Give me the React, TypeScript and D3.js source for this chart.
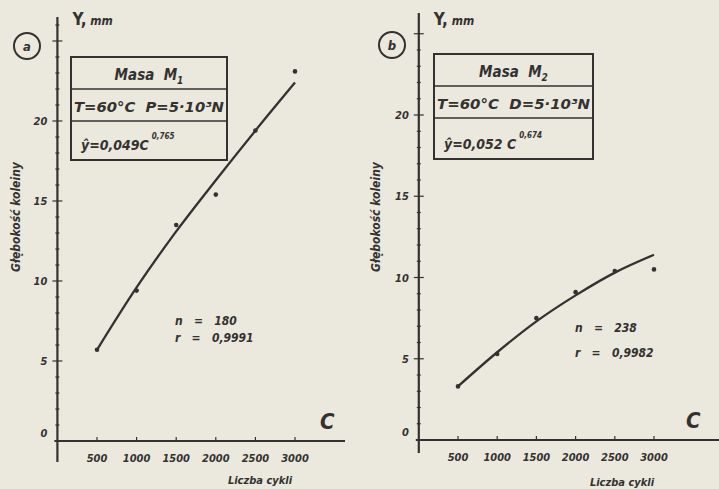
import { useEffect, useRef } from 'react'
import * as d3 from 'd3'

// number of cycles (C)
const cycles = [500, 1000, 1500, 2000, 2500, 3000]
const xTickValues = [500, 1000, 1500, 2000, 2500, 3000]
const yTickValues = [0, 5, 10, 15, 20]

// panel a: mass M1 - measured rut depth and fitted curve (mm)
const measuredA = [5.7, 9.4, 13.5, 15.4, 19.4, 23.1]
const fittedA = [5.7, 9.6, 13.1, 16.3, 19.4, 22.4]

// panel b: mass M2
const measuredB = [3.3, 5.3, 7.5, 9.1, 10.4, 10.5]
const fittedB = [3.3, 5.4, 7.3, 8.9, 10.3, 11.4]

const INK = '#333230'
const FONT = '"DejaVu Sans Condensed", "DejaVu Sans", sans-serif'

interface Panel {
  letter: string
  measured: number[]
  fitted: number[]
  x0: number
  x3000: number
  y0: number
  y20: number
  axisTop: number
  axisBottom: number
  axisRight: number
  box: { x: number; y: number; w: number; h: number; d1: number; d2: number }
  mass: string
  massSub: string
  cond: string
  eq: string
  exp: string
  nText: string
  rText: string
  statsPos: [number, number, number]
  cPos: [number, number]
  xTitlePos: [number, number]
  circle: [number, number]
  yTitleX: number
}

const panels: Panel[] = [
  {
    letter: 'a', measured: measuredA, fitted: fittedA,
    x0: 57.4, x3000: 295, y0: 441, y20: 121,
    axisTop: 17, axisBottom: 462, axisRight: 345,
    box: { x: 71, y: 57, w: 156, h: 103, d1: 89, d2: 121 },
    mass: 'Masa  M', massSub: '1', cond: 'T=60°C  P=5·10³N', eq: 'ŷ=0,049C', exp: '0,765',
    nText: 'n   =   180', rText: 'r   =   0,9991', statsPos: [175, 325, 342],
    cPos: [320, 429], xTitlePos: [260, 484], circle: [27, 46], yTitleX: 20
  },
  {
    letter: 'b', measured: measuredB, fitted: fittedB,
    x0: 418.8, x3000: 654, y0: 440, y20: 115,
    axisTop: 13, axisBottom: 453, axisRight: 719,
    box: { x: 434, y: 54, w: 159, h: 105, d1: 86, d2: 118 },
    mass: 'Masa  M', massSub: '2', cond: 'T=60°C  D=5·10³N', eq: 'ŷ=0,052 C', exp: '0,674',
    nText: 'n   =   238', rText: 'r   =   0,9982', statsPos: [575, 332, 357],
    cPos: [686, 428], xTitlePos: [622, 486], circle: [392, 45], yTitleX: 380
  }
]

function drawPanel(svg: d3.Selection<SVGSVGElement, unknown, null, undefined>, p: Panel) {
  const x = d3.scaleLinear().domain([0, 3000]).range([p.x0, p.x3000])
  const y = d3.scaleLinear().domain([0, 20]).range([p.y0, p.y20])
  const g = svg.append('g')

  const txt = (tx: number, ty: number, s: string, size: number, anchor = 'start') =>
    g.append('text')
      .attr('x', tx).attr('y', ty)
      .attr('text-anchor', anchor)
      .style('font-family', FONT)
      .style('font-style', 'italic')
      .style('font-weight', 'bold')
      .style('font-size', size + 'px')
      .style('white-space', 'pre')
      .style('fill', INK)
      .text(s)

  // axes
  g.append('line')
    .attr('x1', x(0)).attr('x2', x(0))
    .attr('y1', p.axisTop).attr('y2', p.axisBottom)
    .attr('stroke', INK).attr('stroke-width', 2.2)
  g.append('line')
    .attr('x1', x(0) - 3).attr('x2', p.axisRight)
    .attr('y1', y(0)).attr('y2', y(0))
    .attr('stroke', INK).attr('stroke-width', 2)

  // y minor + major ticks
  const yMax = Math.floor(y.invert(p.axisTop + 6))
  d3.range(1, yMax + 1).forEach(v => {
    const major = v % 5 === 0
    g.append('line')
      .attr('x1', x(0) - (major ? 5 : 2)).attr('x2', x(0) + (major ? 5 : 2))
      .attr('y1', y(v)).attr('y2', y(v))
      .attr('stroke', INK).attr('stroke-width', 1.2)
  })
  yTickValues.forEach(v => {
    txt(x(0) - 10, y(v) + (v === 0 ? -4 : 4), String(v), 11, 'end')
  })

  // x ticks
  xTickValues.forEach(v => {
    g.append('line')
      .attr('x1', x(v)).attr('x2', x(v))
      .attr('y1', y(0) - 4).attr('y2', y(0))
      .attr('stroke', INK).attr('stroke-width', 1.2)
    txt(x(v), y(0) + 21, String(v), 11, 'middle')
  })

  // fitted curve
  const line = d3.line<number>()
    .x((_, i) => x(cycles[i]))
    .y(d => y(d))
    .curve(d3.curveCatmullRom)
  g.append('path')
    .datum(p.fitted)
    .attr('d', line)
    .attr('fill', 'none')
    .attr('stroke', INK)
    .attr('stroke-width', 2.3)

  // measured points
  g.selectAll('circle.pt')
    .data(p.measured)
    .enter().append('circle')
    .attr('class', 'pt')
    .attr('cx', (_, i) => x(cycles[i]))
    .attr('cy', d => y(d))
    .attr('r', 2.3)
    .attr('fill', INK)

  // labels
  g.append('circle')
    .attr('cx', p.circle[0]).attr('cy', p.circle[1]).attr('r', 13)
    .attr('fill', 'none').attr('stroke', INK).attr('stroke-width', 2)
  txt(p.circle[0], p.circle[1] + 5, p.letter, 13, 'middle')
  g.append('text')
    .attr('x', x(0) + 15).attr('y', 25)
    .style('font-family', FONT).style('font-weight', 'bold')
    .style('font-size', '17px').style('fill', INK)
    .text('Y,')
    .append('tspan')
    .style('font-style', 'italic').style('font-size', '12px')
    .text(' mm')

  txt(p.yTitleX, 217, 'Głębokość koleiny', 12, 'middle')
    .attr('transform', `rotate(-90, ${p.yTitleX}, 217)`)

  txt(p.statsPos[0], p.statsPos[1], p.nText, 12)
  txt(p.statsPos[0], p.statsPos[2], p.rText, 12)
  txt(p.cPos[0], p.cPos[1], 'C', 22)
  txt(p.xTitlePos[0], p.xTitlePos[1], 'Liczba cykli', 11, 'middle')

  // legend box
  const b = p.box
  g.append('rect')
    .attr('x', b.x).attr('y', b.y).attr('width', b.w).attr('height', b.h)
    .attr('fill', 'none').attr('stroke', INK).attr('stroke-width', 2)
  ;[b.d1, b.d2].forEach(dy => {
    g.append('line')
      .attr('x1', b.x).attr('x2', b.x + b.w)
      .attr('y1', dy).attr('y2', dy)
      .attr('stroke', INK).attr('stroke-width', 1.6)
  })
  const cx = b.x + b.w / 2
  const m = txt(cx, b.d1 - 9, p.mass, 15, 'middle')
  m.append('tspan').attr('dy', 4).style('font-size', '10px').text(p.massSub)
  txt(cx, b.d2 - 9, p.cond, 14, 'middle')
    .attr('textLength', b.w - 6)
    .attr('lengthAdjust', 'spacingAndGlyphs')
  const e = txt(b.x + 10, b.y + b.h - 10, p.eq, 14)
  e.append('tspan').attr('dy', -11).attr('dx', 3).style('font-size', '8px').text(p.exp)
}

export default function App() {
  const svgRef = useRef<SVGSVGElement>(null)

  useEffect(() => {
    if (!svgRef.current) return
    const svg = d3.select(svgRef.current)
    svg.selectAll('*').remove()

    svg.append('rect')
      .attr('width', 719).attr('height', 489)
      .attr('fill', '#ebe8de')

    panels.forEach(p => drawPanel(svg, p))
  }, [])

  return (
    <svg ref={svgRef} width={719} height={489}
      style={{ position: 'absolute', left: 0, top: 0, display: 'block' }} />
  )
}
